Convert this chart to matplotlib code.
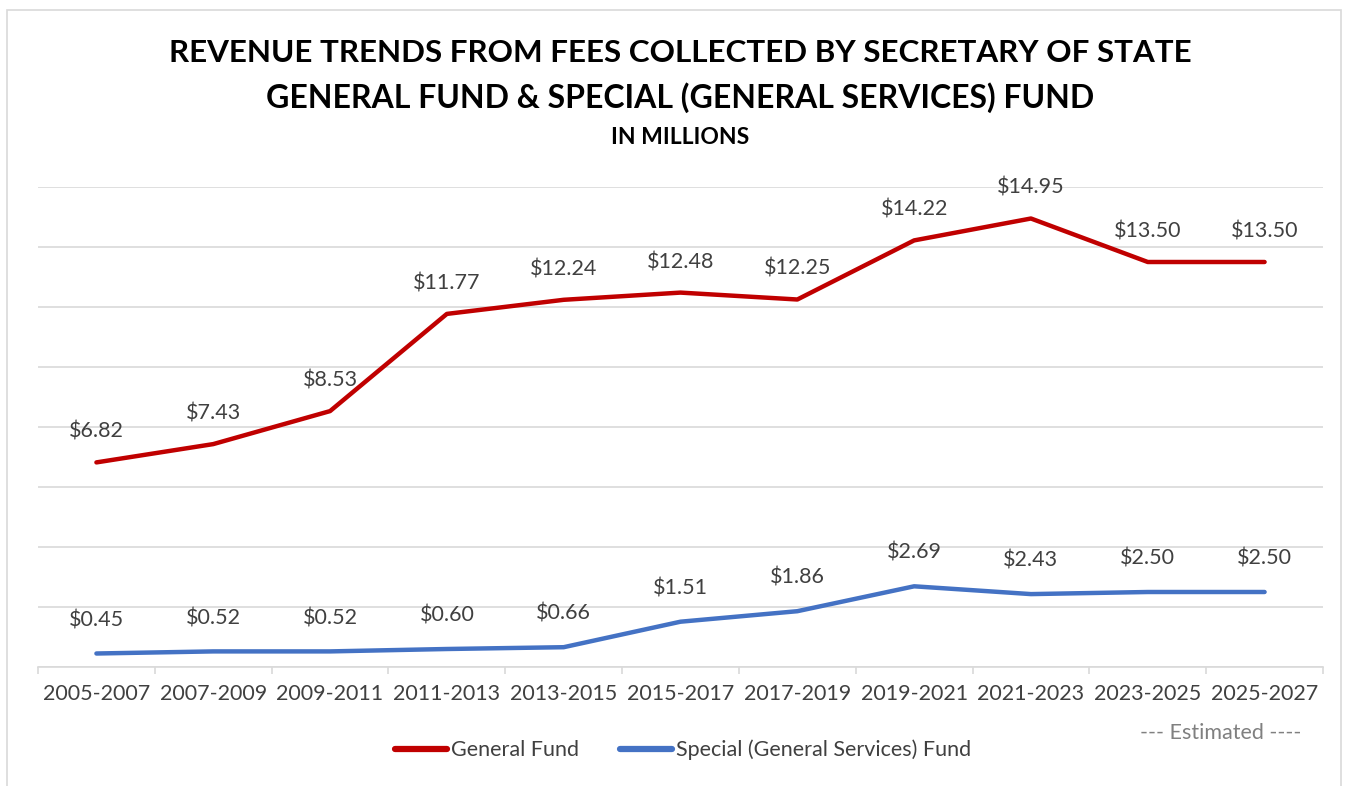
import matplotlib
matplotlib.use("Agg")
import matplotlib.pyplot as plt
from matplotlib.patches import Rectangle
from matplotlib.lines import Line2D

periods = ["2005-2007", "2007-2009", "2009-2011", "2011-2013", "2013-2015", "2015-2017",
           "2017-2019", "2019-2021", "2021-2023", "2023-2025", "2025-2027"]
general_fund = [6.82, 7.43, 8.53, 11.77, 12.24, 12.48, 12.25, 14.22, 14.95, 13.50, 13.50]
special_fund = [0.45, 0.52, 0.52, 0.60, 0.66, 1.51, 1.86, 2.69, 2.43, 2.50, 2.50]

RED = "#C00000"
BLUE = "#4472C4"
TXT = "#404040"
FONT = ["Lato", "DejaVu Sans"]
plt.rcParams['font.family'] = FONT
FS = 15.5

W, H = 1353, 786
fig = plt.figure(figsize=(W / 100, H / 100), dpi=100)

# outer frame
fig.patches.append(Rectangle((7 / W, -0.01), (1341 - 7) / W, 1 - 10 / H + 0.01,
                             transform=fig.transFigure, fill=False, edgecolor="#D9D9D9",
                             linewidth=1.2))

ax = fig.add_axes([38 / W, 1 - 667 / H, (1323 - 38) / W, (667 - 187) / H])
x = list(range(len(periods)))
ax.plot(x, general_fund, color=RED, linewidth=3.2, solid_capstyle="round", zorder=3)
ax.plot(x, special_fund, color=BLUE, linewidth=3.2, solid_capstyle="round", zorder=3)

for xi, v in zip(x, general_fund):
    ax.annotate(f"${v:.2f}", (xi, v), xytext=(0, 22), textcoords="offset points",
                ha="center", va="center", fontsize=FS, color=TXT)
for xi, v in zip(x, special_fund):
    ax.annotate(f"${v:.2f}", (xi, v), xytext=(0, 24), textcoords="offset points",
                ha="center", va="center", fontsize=FS, color=TXT)

ax.set_xlim(-0.5, len(periods) - 0.5)
ax.set_ylim(0, 16)
ax.set_yticks(range(0, 17, 2))
ax.yaxis.grid(True, color="#D9D9D9", linewidth=1.2)
ax.set_axisbelow(True)
ax.tick_params(axis="y", left=False, labelleft=False)
for s in ["top", "right", "left"]:
    ax.spines[s].set_visible(False)
ax.spines["bottom"].set_color("#D9D9D9")
ax.spines["bottom"].set_linewidth(1.2)

ax.set_xticks([i - 0.5 for i in range(len(periods) + 1)])
ax.set_xticklabels([])
ax.tick_params(axis="x", which="major", length=5, color="#D9D9D9", width=1.2)
ax.set_xticks(x, minor=True)
ax.set_xticklabels(periods, minor=True, fontsize=FS, color=TXT)
ax.tick_params(axis="x", which="minor", length=0, pad=12)

fig.text(680 / W, 1 - 53 / H, "REVENUE TRENDS FROM FEES COLLECTED BY SECRETARY OF STATE",
         ha="center", va="center", fontsize=22.6, fontweight="bold", color="black")
fig.text(680 / W, 1 - 98 / H, "GENERAL FUND & SPECIAL (GENERAL SERVICES) FUND",
         ha="center", va="center", fontsize=23, fontweight="bold", color="black")
fig.text(680 / W, 1 - 138 / H, "IN MILLIONS",
         ha="center", va="center", fontsize=16.5, fontweight="bold", color="black")

fig.text(1221 / W, 1 - 733 / H, "--- Estimated ----", ha="center", va="center",
         fontsize=FS, color="#808080")

handles = [Line2D([], [], color=RED, linewidth=4.5, solid_capstyle="round"),
           Line2D([], [], color=BLUE, linewidth=4.5, solid_capstyle="round")]
fig.legend(handles, ["General Fund", "Special (General Services) Fund"],
           loc="center", bbox_to_anchor=(683 / W, 1 - 750 / H), ncol=2, frameon=False,
           fontsize=FS, labelcolor=TXT, handlelength=2.4, handletextpad=0.2,
           columnspacing=1.9)

fig.savefig("out.png", dpi=100)
